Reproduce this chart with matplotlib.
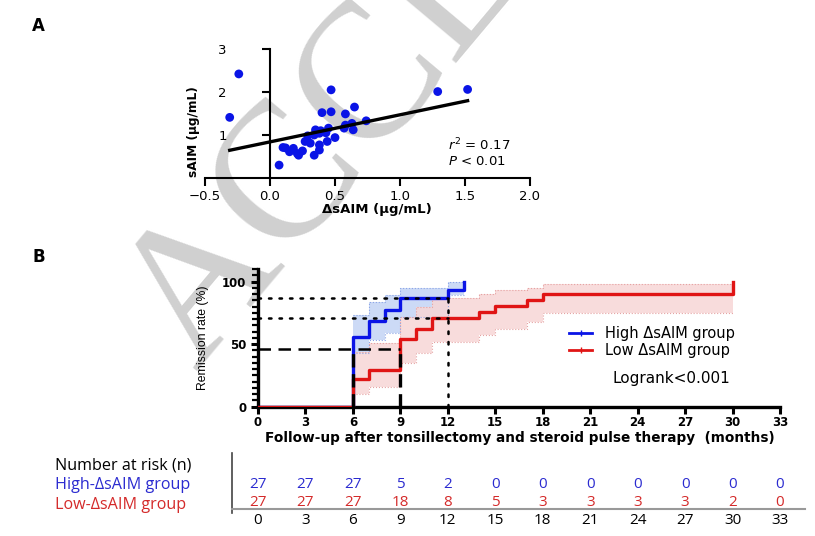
import matplotlib.pyplot as plt
from matplotlib.lines import Line2D

# ---- Panel A: sAIM vs delta sAIM ----
delta_saim = [-0.24, -0.31, 0.47, 1.29, 1.52, 0.40, 0.47, 0.65, 0.58, 0.74,
              0.63, 0.58, 0.57, 0.64, 0.45, 0.35, 0.38, 0.34, 0.29, 0.50,
              0.27, 0.31, 0.44, 0.38, 0.10, 0.18, 0.15, 0.21, 0.25, 0.38,
              0.34, 0.07, 0.22, 0.43, 0.39, 0.12]
saim = [2.42, 1.41, 2.05, 2.01, 2.06, 1.52, 1.54, 1.65, 1.49, 1.33,
        1.27, 1.23, 1.16, 1.12, 1.16, 1.12, 1.04, 1.00, 0.98, 0.94,
        0.85, 0.81, 0.85, 0.77, 0.71, 0.69, 0.61, 0.57, 0.63, 0.65,
        0.53, 0.30, 0.53, 1.05, 1.10, 0.70]
fit_slope = 0.63
fit_intercept = 0.84
r2_value = "0.17"
p_value = "0.01"

# ---- Panel B: remission curves ----
high_t = [0, 6, 7, 8, 9, 12, 13]
high_s = [0, 56, 68.5, 77, 86.7, 93, 100]
high_ci_t = [6, 7, 8, 9, 12, 13]
high_ci_lo = [43, 53, 59, 72, 89, 89]
high_ci_hi = [73, 84, 89.5, 95, 100, 100]

low_t = [0, 6, 7, 9, 10, 11, 14, 15, 17, 18, 30]
low_s = [0, 22.2, 29.6, 54, 62.5, 71, 76, 80.5, 85.5, 90, 100]
low_ci_t = [6, 7, 9, 10, 11, 14, 15, 17, 18, 30]
low_ci_lo = [10, 16, 35, 43, 52, 57, 62, 68, 75, 75]
low_ci_hi = [44, 51, 72, 80, 87, 90.5, 93, 95, 98, 98]

median_level = 46
median_high = 6
median_low = 9
rate_12m = [86.7, 71]
time_12m = 12

risk_times = [0, 3, 6, 9, 12, 15, 18, 21, 24, 27, 30, 33]
high_risk = [27, 27, 27, 5, 2, 0, 0, 0, 0, 0, 0, 0]
low_risk = [27, 27, 27, 18, 8, 5, 3, 3, 3, 3, 2, 0]

BLUE = "#0a14e6"
RED = "#e01515"
TXT_BLUE = "#2b2bd0"
TXT_RED = "#d42a2a"

W, H = 815, 536


def box(l, t, r, b):
    return [l / W, 1 - b / H, (r - l) / W, (b - t) / H]


plt.rcParams["font.family"] = ["DejaVu Sans"]
plt.rcParams["mathtext.fontset"] = "dejavusans"

fig = plt.figure(figsize=(W / 100, H / 100), dpi=100)

# watermark
fig.text(196 / W, 1 - 372 / H, "ACCEPTED", rotation=50, rotation_mode="anchor",
         ha="left", va="baseline", fontsize=140, color="#d0d0d0",
         family="Liberation Serif", zorder=-1)

# ---------------- Panel A ----------------
ax = fig.add_axes(box(205, 49, 530, 178))
ax.set_facecolor("none")
ax.scatter(delta_saim, saim, s=40, color=BLUE, edgecolors="none", zorder=3)
xs = [min(delta_saim), max(delta_saim)]
ax.plot(xs, [fit_intercept + fit_slope * x for x in xs], color="black", lw=2.4, zorder=4)
ax.set_xlim(-0.5, 2.0)
ax.set_ylim(0, 3)
ax.spines["left"].set_position(("data", 0))
ax.spines["top"].set_visible(False)
ax.spines["right"].set_visible(False)
for s in ("left", "bottom"):
    ax.spines[s].set_linewidth(1.5)
ax.set_xticks([-0.5, 0.0, 0.5, 1.0, 1.5, 2.0])
ax.set_xticklabels(["\u22120.5", "0.0", "0.5", "1.0", "1.5", "2.0"])
ax.set_yticks([1, 2, 3])
ax.tick_params(axis="x", direction="out", length=6, width=1.5, labelsize=9.5, pad=3)
ax.tick_params(axis="y", direction="out", length=6, width=1.5, labelsize=9.5, pad=25)
ax.set_xlabel("\u0394sAIM (\u00b5g/mL)", fontsize=9.5, fontweight="bold")
ax.xaxis.set_label_coords((377 - 205) / 325, (178 - 203) / 129)
ax.set_ylabel("sAIM (\u00b5g/mL)", fontsize=8.7, fontweight="bold")
ax.yaxis.set_label_coords((200 - 205) / 325, (178 - 132) / 129)
ax.text(1.37, 0.77, r"$r^2$ = " + r2_value, fontsize=9.5, va="center")
ax.text(1.37, 0.38, r"$P$ < " + p_value, fontsize=9.5, va="center")

fig.text(32 / W, 1 - 26 / H, "A", fontsize=12, fontweight="bold", va="center")
fig.text(32 / W, 1 - 257 / H, "B", fontsize=12, fontweight="bold", va="center")

# ---------------- Panel B ----------------
bx = fig.add_axes(box(258, 269.2, 780, 406.7))
bx.set_facecolor("none")
bx.fill_between(high_ci_t, high_ci_lo, high_ci_hi, step="post",
                color="#c7d6f5", alpha=0.9, lw=0, zorder=1)
bx.fill_between(low_ci_t, low_ci_lo, low_ci_hi, step="post",
                color="#f7d6d6", alpha=0.85, lw=0, zorder=1)
for t, lo, hi, c in ((high_ci_t, high_ci_lo, high_ci_hi, "#8ea6e6"),
                     (low_ci_t, low_ci_lo, low_ci_hi, "#e5a3a3")):
    bx.step(t, lo, where="post", color=c, lw=0.8, ls=":", zorder=1.5)
    bx.step(t, hi, where="post", color=c, lw=0.8, ls=":", zorder=1.5)

bx.step(high_t, high_s, where="post", color=BLUE, lw=2.4, zorder=3)
bx.step(low_t, low_s, where="post", color=RED, lw=2.4, zorder=3.2)

# median and 12-month guide lines
bx.plot([0, median_low], [median_level, median_level], color="black", lw=1.8,
        dashes=(5, 3), zorder=4)
bx.plot([median_high, median_high], [0, median_level], color="black", lw=2.4,
        dashes=(4, 2), zorder=4)
bx.plot([median_low, median_low], [0, median_level], color="black", lw=2.4,
        dashes=(4, 2), zorder=4)
for lvl in rate_12m:
    bx.plot([0, time_12m], [lvl, lvl], color="black", lw=1.8, ls=(0, (1, 3.2)),
            dash_capstyle="round", zorder=4)
bx.plot([time_12m, time_12m], [0, max(rate_12m)], color="black", lw=1.8,
        ls=(0, (1, 3.2)), dash_capstyle="round", zorder=4)

bx.set_xlim(0, 33)
bx.set_ylim(0, 110)
bx.spines["top"].set_visible(False)
bx.spines["right"].set_visible(False)
for s in ("left", "bottom"):
    bx.spines[s].set_linewidth(2.4)
bx.set_xticks(risk_times)
bx.set_yticks([0, 50, 100])
bx.set_yticks(range(0, 111, 5), minor=True)
bx.tick_params(axis="both", which="major", direction="out", length=5, width=2.2,
               labelsize=8.5)
bx.tick_params(axis="x", which="major", pad=1.5)
bx.tick_params(axis="y", which="minor", direction="out", length=4, width=1.6)
for lab in bx.get_xticklabels() + bx.get_yticklabels():
    lab.set_fontweight("bold")
bx.set_xlabel("Follow-up after tonsillectomy and steroid pulse therapy  (months)",
              fontsize=9.8, fontweight="bold")
bx.xaxis.set_label_coords((520 - 258) / 522, (406.7 - 431) / 137.5)
bx.set_ylabel("Remission rate (%)", fontsize=8.8, family="Liberation Sans")
bx.yaxis.set_label_coords((209 - 258) / 522, 0.5)

handles = [Line2D([], [], color=BLUE, lw=2, marker="|", markersize=5),
           Line2D([], [], color=RED, lw=2, marker="|", markersize=5)]
bx.legend(handles, ["High \u0394sAIM group", "Low \u0394sAIM group"], loc="upper left",
          bbox_to_anchor=(569 / W, 1 - 326 / H), bbox_transform=fig.transFigure,
          frameon=False, fontsize=10.5, handlelength=1.6, handletextpad=0.9,
          labelspacing=0.15, borderpad=0, borderaxespad=0, numpoints=1)
fig.text(613 / W, 1 - 378 / H, "Logrank<0.001", fontsize=11, va="center")

# ---------------- Number at risk table ----------------
tx = fig.add_axes(box(232, 453, 805, 509))
tx.set_facecolor("none")
tx.set_xlim((232 - 258) / 15.82, (805 - 258) / 15.82)
tx.set_ylim(0, 1)
tx.spines["top"].set_visible(False)
tx.spines["right"].set_visible(False)
tx.spines["left"].set_color("#444444")
tx.spines["left"].set_linewidth(1.2)
tx.spines["left"].set_bounds(-0.07, 1)
tx.spines["bottom"].set_color("#999999")
tx.spines["bottom"].set_linewidth(1.5)
tx.set_yticks([])
tx.set_xticks(risk_times)
tx.tick_params(axis="x", length=0, pad=3, labelsize=11)
for lab in tx.get_xticklabels():
    lab.set_family("Open Sans")
for t, n_hi, n_lo in zip(risk_times, high_risk, low_risk):
    tx.text(t, (509 - 484) / 56, str(n_hi), color=TXT_BLUE, ha="center",
            va="center", fontsize=11, family="Open Sans")
    tx.text(t, (509 - 502) / 56, str(n_lo), color=TXT_RED, ha="center",
            va="center", fontsize=11, family="Open Sans")

fig.text(55 / W, 1 - 465 / H, "Number at risk (n)", fontsize=11.6, va="center",
         family="Open Sans")
fig.text(55 / W, 1 - 485 / H, "High-\u0394sAIM group", fontsize=11.6, va="center",
         family="Open Sans", color=TXT_BLUE)
fig.text(55 / W, 1 - 505 / H, "Low-\u0394sAIM group", fontsize=11.6, va="center",
         family="Open Sans", color=TXT_RED)

fig.savefig("out.png", dpi=100)
